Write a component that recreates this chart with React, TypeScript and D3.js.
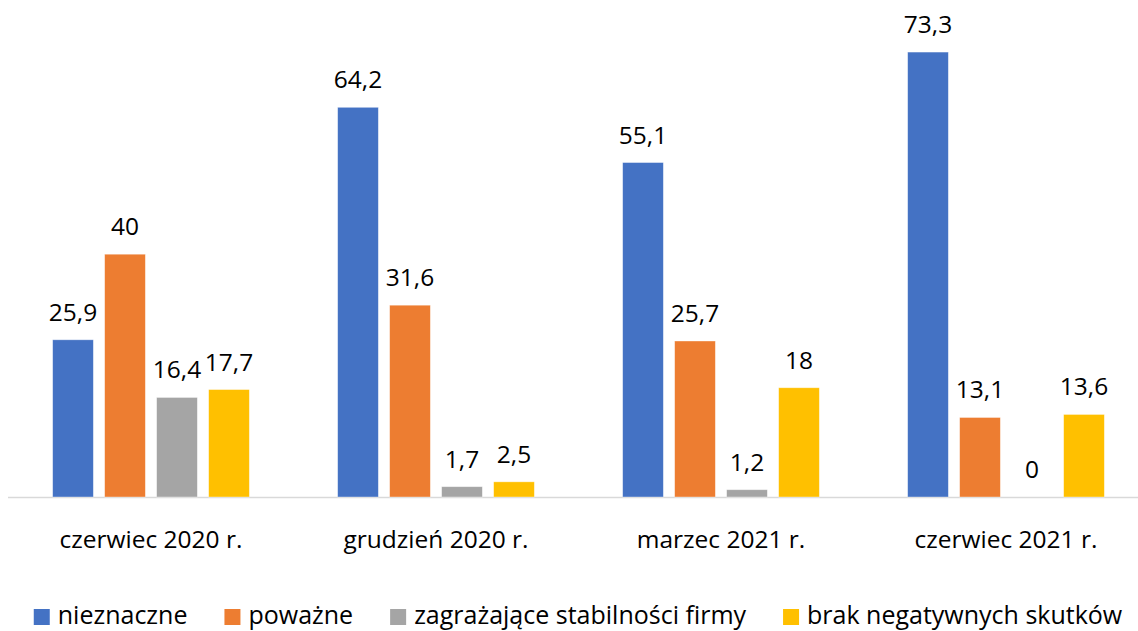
import React, { useEffect, useRef } from "react";
import * as d3 from "d3";

const categories = ["czerwiec 2020 r.", "grudzień 2020 r.", "marzec 2021 r.", "czerwiec 2021 r."];
const seriesNames = ["nieznaczne", "poważne", "zagrażające stabilności firmy", "brak negatywnych skutków"];
const seriesColors = ["#4472C4", "#ED7D31", "#A5A5A5", "#FFC000"];
const nieznaczne = [25.9, 64.2, 55.1, 73.3];
const powazne = [40, 31.6, 25.7, 13.1];
const zagrazajace = [16.4, 1.7, 1.2, 0];
const brak = [17.7, 2.5, 18, 13.6];
const seriesValues = [nieznaczne, powazne, zagrazajace, brak];

const W = 1138;
const H = 631;
const FONT = "'Open Sans', 'Noto Sans', sans-serif";
const fmt = (v: number) => String(v).replace(".", ",");

export default function App() {
  const ref = useRef<SVGSVGElement>(null);

  useEffect(() => {
    const svg = d3.select(ref.current);
    svg.selectAll("*").remove();

    const baseline = 497;
    const x0 = d3.scaleBand<string>().domain(categories).range([8.5, 1148.5]).padding(0);
    const x1 = d3
      .scaleBand<string>()
      .domain(seriesNames)
      .range([0, x0.bandwidth()])
      .paddingInner(0.217)
      .paddingOuter(0.849);
    const y = d3.scaleLinear().domain([0, 80]).range([baseline, baseline - 80 * 6.07]);

    svg
      .append("line")
      .attr("x1", 8)
      .attr("x2", W)
      .attr("y1", baseline + 0.5)
      .attr("y2", baseline + 0.5)
      .attr("stroke", "#d9d9d9")
      .attr("stroke-width", 1.5);

    const groups = svg
      .selectAll("g.grp")
      .data(categories)
      .enter()
      .append("g")
      .attr("class", "grp")
      .attr("transform", (d) => `translate(${x0(d)},0)`);

    seriesNames.forEach((s, si) => {
      groups
        .append("rect")
        .attr("x", x1(s)!)
        .attr("width", x1.bandwidth())
        .attr("y", (_, i) => y(seriesValues[si][i]))
        .attr("height", (_, i) => baseline - y(seriesValues[si][i]))
        .attr("fill", seriesColors[si])
        .attr("stroke", "#ffffff")
        .attr("stroke-opacity", 0.5)
        .attr("stroke-width", 0.75);

      groups
        .append("text")
        .attr("x", x1(s)! + x1.bandwidth() / 2)
        .attr("y", (_, i) => y(seriesValues[si][i]) - 19)
        .attr("text-anchor", "middle")
        .attr("font-family", FONT)
        .attr("font-size", 24.5)
        .attr("fill", "#000")
        .text((_, i) => fmt(seriesValues[si][i]));
    });

    groups
      .append("text")
      .attr("x", x0.bandwidth() / 2)
      .attr("y", 548)
      .attr("text-anchor", "middle")
      .attr("font-family", FONT)
      .attr("font-size", 24.5)
      .attr("fill", "#000")
      .text((d) => d);

    const leg = svg.append("g");
    const sq = 16;
    const gapSqText = 8;
    const gapItems = 37;
    let cx = 0;
    seriesNames.forEach((s, si) => {
      leg
        .append("rect")
        .attr("x", cx)
        .attr("y", 609)
        .attr("width", sq)
        .attr("height", sq)
        .attr("fill", seriesColors[si]);
      const t = leg
        .append("text")
        .attr("x", cx + sq + gapSqText)
        .attr("y", 624)
        .attr("font-family", FONT)
        .attr("font-size", 25)
        .attr("fill", "#000")
        .text(s);
      const w = (t.node() as SVGTextElement).getComputedTextLength();
      cx += sq + gapSqText + w + (si < seriesNames.length - 1 ? gapItems : 0);
    });
    leg.attr("transform", `translate(${578 - cx / 2},0)`);
  }, []);

  return (
    <svg
      ref={ref}
      width={W}
      height={H}
      style={{ position: "fixed", left: 0, top: 0, background: "#fff" }}
    />
  );
}
